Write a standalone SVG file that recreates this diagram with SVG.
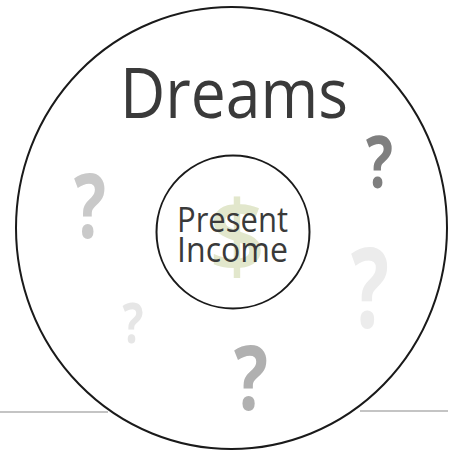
<svg xmlns="http://www.w3.org/2000/svg" width="454" height="451" viewBox="0 0 454 451">
<style>
.lbl{font-family:"Open Sans","Noto Sans",sans-serif;fill:#3a3a3a}
.q{font-family:"Open Sans","Noto Sans",sans-serif;font-weight:bold;text-anchor:middle}
.ring{fill:none;stroke:#1a1a1a;stroke-width:2}
</style>
<rect width="454" height="451" fill="#fff"/>
<g id="connectors">
<line x1="0" y1="412" x2="108" y2="412" stroke="#8a8a8a" stroke-width="1.2"/>
<line x1="360" y1="411" x2="448" y2="411" stroke="#8a8a8a" stroke-width="1.2"/>
</g>
<g id="questions">
<text class="q" x="90" y="238" font-size="90" fill="#c9c9c9" textLength="32" lengthAdjust="spacingAndGlyphs">?</text>
<text class="q" x="379.5" y="188" font-size="71" fill="#7f7f7f" textLength="27" lengthAdjust="spacingAndGlyphs">?</text>
<text class="q" x="370" y="328" font-size="112" fill="#ececec" textLength="38" lengthAdjust="spacingAndGlyphs">?</text>
<text class="q" x="133" y="343" font-size="56" fill="#e6e6e6" textLength="21" lengthAdjust="spacingAndGlyphs">?</text>
<text class="q" x="251" y="410" font-size="90" fill="#b0b0b0" textLength="34" lengthAdjust="spacingAndGlyphs">?</text>
</g>
<g id="dreams">
<ellipse class="ring" cx="231.5" cy="228" rx="215.5" ry="221"/>
<text class="lbl" x="120" y="118" font-size="70" textLength="228" lengthAdjust="spacingAndGlyphs">Dreams</text>
</g>
<g id="present-income">
<text x="237" y="272" font-family="Open Sans, sans-serif" font-weight="600" font-size="100" fill="#e2e7cc" text-anchor="middle">$</text>
<circle class="ring" cx="233" cy="232" r="76.5"/>
<text class="lbl" x="177" y="232" font-size="35" textLength="111" lengthAdjust="spacingAndGlyphs">Present</text>
<text class="lbl" x="177" y="262" font-size="35" textLength="111" lengthAdjust="spacingAndGlyphs">Income</text>
</g>
</svg>
